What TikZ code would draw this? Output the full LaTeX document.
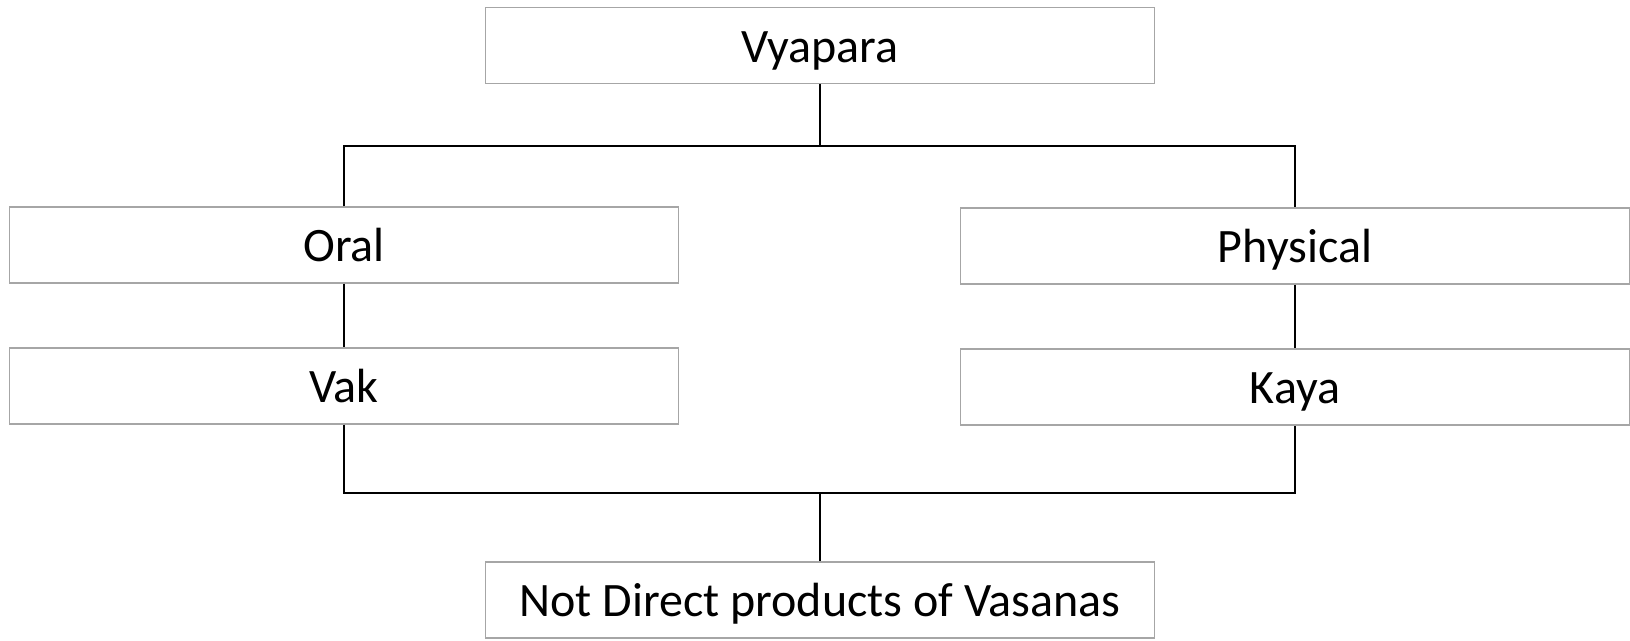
\documentclass[tikz,border=0pt]{standalone}
\usepackage{fontspec}
\setmainfont{Carlito}
\begin{document}
\begin{tikzpicture}[x=1pt,y=-1pt,
  box/.style={draw=boxgray,line width=1.2pt,minimum height=76pt,inner sep=0pt,
    text height=40pt,text depth=7pt,font=\fontsize{48}{56}\selectfont},
  wide/.style={box,minimum width=669pt},
  link/.style={draw=black,line width=1.2pt}]
\definecolor{boxgray}{HTML}{A6A6A6}
\useasboundingbox[fill=white] (0,0) rectangle (1630,640);
\node[wide] (vy) at (820,45.5) {Vyapara};
\node[wide] (oral) at (344,245) {Oral};
\node[wide] (phys) at (1295,246) {Physical};
\node[wide] (vak) at (344,386) {Vak};
\node[wide] (kaya) at (1295,387) {Kaya};
\node[wide] (nd) at (820,600) {Not Direct products of Vasanas};
\coordinate (top) at (820,146);
\coordinate (bot) at (820,493);
\draw[link] (vy.south) -- (top);
\draw[link] (oral.north) |- (top) -| (phys.north);
\draw[link] (oral.south) -- (vak.north);
\draw[link] (phys.south) -- (kaya.north);
\draw[link] (vak.south) |- (bot) -| (kaya.south);
\draw[link] (bot) -- (nd.north);
\end{tikzpicture}
\end{document}
